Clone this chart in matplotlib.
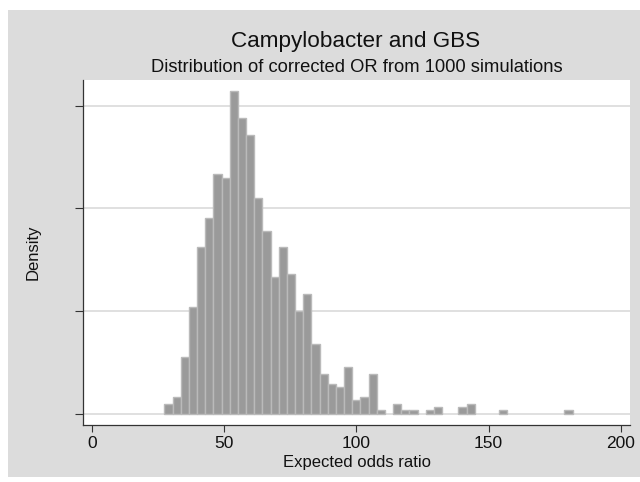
import numpy as np
import matplotlib.pyplot as plt
from matplotlib.patches import Rectangle

plt.rcParams['font.family'] = ['Liberation Sans', 'DejaVu Sans']

# Histogram of 1000 simulated corrected odds ratios (50 bins)
n_sims = 1000
bin_start = 27.3
bin_width = 3.09
counts = [3, 5, 17, 32, 50, 59, 72, 71, 97, 89,
          84, 65, 55, 41, 50, 42, 31, 36, 21, 12,
          9, 8, 14, 4, 5, 12, 1, 0, 3, 1,
          1, 0, 1, 2, 0, 0, 2, 3, 0, 0,
          0, 1, 0, 0, 0, 0, 0, 0, 0, 1]
x_ticks = [0, 50, 100, 150, 200]
y_ticks = [0, 0.01, 0.02, 0.03]

counts = np.array(counts)
edges = bin_start + bin_width * np.arange(len(counts))
density = counts / (n_sims * bin_width)
nonzero = counts > 0  # empty bins are not drawn at all

fig = plt.figure(figsize=(6.4, 4.82), dpi=100, facecolor='white')
# Stata-style grey graph region (behind the axes)
fig.patches.append(Rectangle((8 / 640, 5 / 482), 632 / 640, 467 / 482,
                             transform=fig.transFigure, facecolor='#dcdcdc',
                             edgecolor='none', zorder=-10))

ax = fig.add_axes([83 / 640, 57 / 482, 547 / 640, 345 / 482])
ax.set_zorder(1)
ax.set_facecolor('white')
ax.bar(edges[nonzero], density[nonzero], width=bin_width, align='edge',
       color='#9a9a9a', edgecolor='#bababa', linewidth=1.0, zorder=3)

ax.set_xlim(-3.5, 203.5)
ax.set_ylim(-0.00112, 0.0325)
ax.set_xticks(x_ticks)
ax.set_yticks(y_ticks)
ax.set_yticklabels([])
ax.grid(axis='y', color='#dadada', linewidth=1.2, zorder=0)
ax.tick_params(axis='x', length=5, width=0.8, color='#333333', labelsize=12.5,
               pad=3, labelcolor='#111111')
ax.tick_params(axis='y', length=6, width=0.8, color='#333333')
for side in ['top', 'right']:
    ax.spines[side].set_visible(False)
for side in ['left', 'bottom']:
    ax.spines[side].set_color('#333333')
    ax.spines[side].set_linewidth(0.9)

fig.text(356 / 640, 1 - 41 / 482, 'Campylobacter and GBS', ha='center', va='center',
         fontsize=16.2, color='#111111')
fig.text(357 / 640, 1 - 67.5 / 482, 'Distribution of corrected OR from 1000 simulations',
         ha='center', va='center', fontsize=13.2, color='#111111')
fig.text(357 / 640, 1 - 462 / 482, 'Expected odds ratio', ha='center', va='center',
         fontsize=12, color='#111111')
fig.text(33 / 640, 1 - 252 / 482, 'Density', ha='center', va='center', rotation=90,
         fontsize=12, color='#111111')

fig.savefig('out.png', dpi=100, facecolor='white')
